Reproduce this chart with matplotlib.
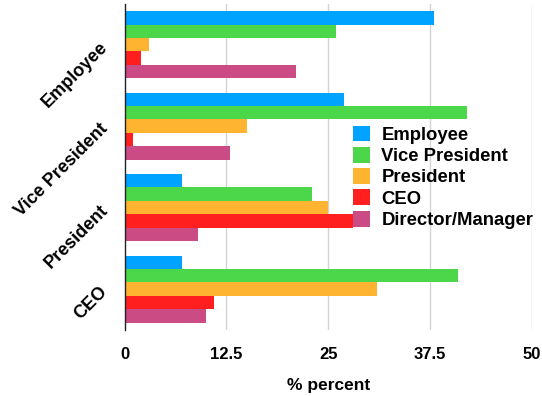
import matplotlib
matplotlib.use('Agg')
import matplotlib.pyplot as plt
import numpy as np

plt.rcParams.update({'font.family': ['Liberation Sans', 'DejaVu Sans'], 'font.weight': 'bold'})

# groups (top to bottom) and series
groups = ['Employee', 'Vice President', 'President', 'CEO']
series = ['Employee', 'Vice President', 'President', 'CEO', 'Director/Manager']
colors = ['#00a3ff', '#4cd64a', '#feb430', '#ff1f1f', '#cb4b84']
# values[s][g]: % of respondents
employee_vals = [38, 27, 7, 7]
vp_vals = [26, 42, 23, 41]
president_vals = [3, 15, 25, 31]
ceo_vals = [2, 1, 28, 11]
director_vals = [21, 13, 9, 10]
values = [employee_vals, vp_vals, president_vals, ceo_vals, director_vals]
xticks = [0, 12.5, 25, 37.5, 50]
xticklabels = ['0', '12.5', '25', '37.5', '50']

fig = plt.figure(figsize=(5.42, 3.96), dpi=100)
ax = fig.add_axes([0.230, 0.167, 0.751, 0.823])

h = 0.165
y = np.arange(len(groups))
for i, (name, vals, c) in enumerate(zip(series, values, colors)):
    ax.barh(y + (i - 2) * h, vals, height=h, color=c, label=name, zorder=3)

ax.set_xlim(0, 50)
ax.set_ylim(3.5, -0.5)
ax.set_xticks(xticks)
ax.set_xticklabels(xticklabels, fontsize=12, fontweight='bold')
ax.set_yticks(y)
ax.set_yticklabels(groups, fontsize=13, fontweight='bold', rotation=45,
                   ha='right', va='center', rotation_mode='anchor')
ax.tick_params(axis='x', length=0, pad=12)
ax.tick_params(axis='y', length=0, pad=14)
ax.set_xlabel('% percent', fontsize=12.5, fontweight='bold', labelpad=12)

for s in ['top', 'right', 'bottom']:
    ax.spines[s].set_visible(False)
ax.spines['left'].set_color('#222222')
ax.spines['left'].set_linewidth(1.0)
ax.spines['left'].set_zorder(4)
for xv in xticks[1:]:
    ax.axvline(xv, color='#d3d3d3', lw=1.0, zorder=1)

leg = fig.legend(loc='upper left', bbox_to_anchor=(0.651, 0.683), frameon=False,
                 fontsize=13.3, handlelength=0.95, handleheight=0.95,
                 handletextpad=0.6, labelspacing=0.16, borderpad=0, borderaxespad=0)
for t in leg.get_texts():
    t.set_fontweight('bold')

fig.savefig('out.png', dpi=100, facecolor='white')
